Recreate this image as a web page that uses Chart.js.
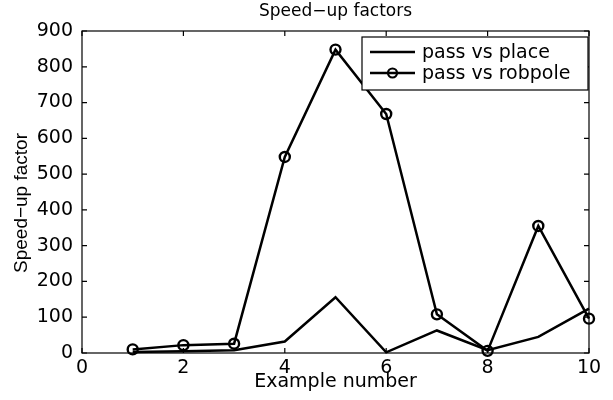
<!DOCTYPE html>
<html>
<head>
<meta charset="utf-8">
<script src="https://cdn.jsdelivr.net/npm/chart.js@4/dist/chart.umd.min.js"></script>
<style>
  html, body { margin: 0; padding: 0; background: #fff; }
  #wrap { width: 613px; height: 400px; }
</style>
</head>
<body>
<div id="wrap"><canvas id="chart"></canvas></div>
<script>
const examples = [1, 2, 3, 4, 5, 6, 7, 8, 9, 10];
const passVsPlace = [3, 5, 8, 32, 156, 2, 63, 8, 45, 124];
const passVsRobpole = [10, 22, 26, 548, 848, 668, 108, 6, 355, 96];
const xTicks = [0, 2, 4, 6, 8, 10];
const yTicks = [0, 100, 200, 300, 400, 500, 600, 700, 800, 900];
const seriesNames = ['pass vs place', 'pass vs robpole'];
const chartTitle = 'Speed\u2212up factors';
const yTitle = 'Speed\u2212up factor';
const xTitle = 'Example number';

// the source figure is a bit stretched sideways, DejaVu's wider glyphs fit that better
const WIDE = '"DejaVu Sans", Verdana, sans-serif';
const NARROW = '"Liberation Sans", Arial, Helvetica, sans-serif';

// matlab style box, inward ticks on all sides, legend, title, y label
const framePlugin = {
  id: 'frame',
  afterDraw(chart) {
    const ctx = chart.ctx;
    const ca = chart.chartArea;
    const xs = chart.scales.x, ys = chart.scales.y;
    ctx.save();
    ctx.strokeStyle = '#000';
    ctx.lineWidth = 1.2;
    ctx.strokeRect(ca.left, ca.top, ca.right - ca.left, ca.bottom - ca.top);

    const tl = 5;
    ctx.beginPath();
    xTicks.forEach(v => {
      const px = xs.getPixelForValue(v);
      ctx.moveTo(px, ca.bottom); ctx.lineTo(px, ca.bottom - tl);
      ctx.moveTo(px, ca.top); ctx.lineTo(px, ca.top + tl);
    });
    yTicks.forEach(v => {
      const py = ys.getPixelForValue(v);
      ctx.moveTo(ca.left, py); ctx.lineTo(ca.left + tl, py);
      ctx.moveTo(ca.right, py); ctx.lineTo(ca.right - tl, py);
    });
    ctx.stroke();

    ctx.fillStyle = '#000';
    ctx.textAlign = 'center';
    ctx.textBaseline = 'middle';

    // title
    ctx.font = '17px ' + WIDE;
    ctx.fillText(chartTitle, (ca.left + ca.right) / 2, 12);

    // y label
    ctx.save();
    ctx.font = '19px ' + NARROW;
    ctx.translate(22, 203);
    ctx.rotate(-Math.PI / 2);
    ctx.fillText(yTitle, 0, 0);
    ctx.restore();

    // legend
    const bw = 226, bh = 53;
    const bx = ca.right - bw - 1, by = ca.top + 6;
    ctx.fillStyle = '#fff';
    ctx.fillRect(bx, by, bw, bh);
    ctx.lineWidth = 1.2;
    ctx.strokeRect(bx, by, bw, bh);
    ctx.font = '19px ' + WIDE;
    ctx.textAlign = 'left';
    seriesNames.forEach((name, i) => {
      const ry = by + 15 + i * 21;
      ctx.lineWidth = 2.5;
      ctx.beginPath();
      ctx.moveTo(bx + 8, ry); ctx.lineTo(bx + 53, ry);
      ctx.stroke();
      if (i === 1) {
        ctx.lineWidth = 2.2;
        ctx.beginPath();
        ctx.arc(bx + 30.5, ry, 4.5, 0, Math.PI * 2);
        ctx.stroke();
      }
      ctx.fillStyle = '#000';
      ctx.fillText(name, bx + 60, ry + 1);
    });
    ctx.restore();
  }
};

new Chart(document.getElementById('chart'), {
  type: 'line',
  data: {
    datasets: [
      {
        label: seriesNames[0],
        data: examples.map((x, i) => ({ x, y: passVsPlace[i] })),
        borderColor: '#000',
        borderWidth: 2.5,
        pointRadius: 0,
        fill: false,
        tension: 0
      },
      {
        label: seriesNames[1],
        data: examples.map((x, i) => ({ x, y: passVsRobpole[i] })),
        borderColor: '#000',
        borderWidth: 2.5,
        pointRadius: 5,
        pointBorderWidth: 2.4,
        pointBackgroundColor: 'rgba(0,0,0,0)',
        pointBorderColor: '#000',
        fill: false,
        tension: 0
      }
    ]
  },
  options: {
    responsive: true,
    maintainAspectRatio: false,
    animation: false,
    clip: false,
    layout: { padding: { top: 31, right: 24, left: 0, bottom: 0 } },
    plugins: {
      legend: { display: false },
      title: { display: false },
      tooltip: { enabled: false }
    },
    scales: {
      x: {
        type: 'linear',
        min: 0,
        max: 10,
        afterBuildTicks: s => { s.ticks = xTicks.map(v => ({ value: v })); },
        afterFit: s => { s.height = 47; },
        grid: { display: false, drawTicks: false },
        border: { display: false },
        ticks: { color: '#000', padding: 4, maxRotation: 0, font: { family: WIDE, size: 19 } },
        title: { display: true, text: xTitle, color: '#000', padding: { top: 0, bottom: 7 }, font: { family: WIDE, size: 19 } }
      },
      y: {
        type: 'linear',
        min: 0,
        max: 900,
        afterBuildTicks: s => { s.ticks = yTicks.map(v => ({ value: v })); },
        afterFit: s => { s.width = 82; },
        grid: { display: false, drawTicks: false },
        border: { display: false },
        ticks: { color: '#000', padding: 9, font: { family: WIDE, size: 19 } }
      }
    }
  },
  plugins: [framePlugin]
});
</script>
</body>
</html>
